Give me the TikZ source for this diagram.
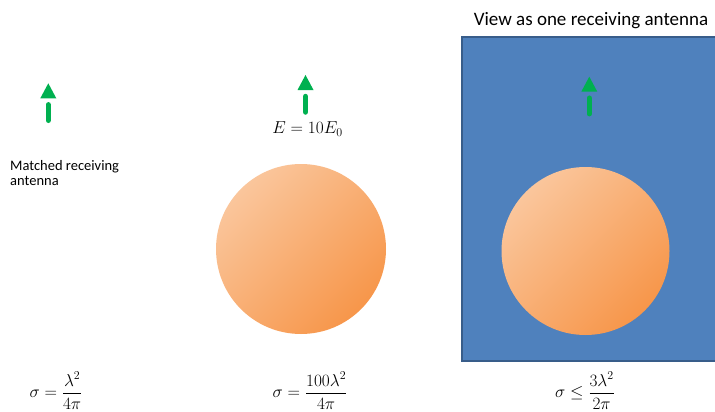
\documentclass[tikz,border=0pt]{standalone}
\usepackage{amsmath}
\usepackage{fontspec}
\newfontfamily\calib{Carlito}
\definecolor{antgreen}{HTML}{00B050}
\definecolor{panelblue}{HTML}{4F81BD}
\definecolor{paneledge}{HTML}{385D8A}
\definecolor{sphlight}{HTML}{FAC69C}
\definecolor{sphdark}{HTML}{F7964A}
\begin{document}
\begin{tikzpicture}[
    x=1pt, y=-1pt,
    panel/.style={fill=panelblue, draw=paneledge, line width=1.5pt},
    sphere/.style={circle, minimum size=#1, inner sep=0pt,
      top color=sphlight, bottom color=sphdark, shading angle=45},
    smalllbl/.style={font=\calib\fontsize{14.5}{15}\selectfont, align=left, inner sep=0pt},
    titlelbl/.style={font=\calib\fontsize{19}{20}\selectfont, inner sep=0pt},
    mathlbl/.style={font=\fontsize{18}{22}\selectfont, inner sep=0pt}
  ]
  \useasboundingbox (0,0) rectangle (715,412);
  % receiving region on the right
  \draw[panel] (462,37) rectangle (720,361);
  \node[titlelbl, anchor=base] (title) at (591,26) {View as one receiving antenna};
  % scatterers
  \node[sphere=170pt] (sph1) at (301,249) {};
  \node[sphere=168pt] (sph2) at (585.5,251) {};
  % antennas
  \foreach \ax/\ay in {48.3/83.3, 305.5/75, 589.3/76.7} {
    \fill[antgreen] (\ax,\ay) -- (\ax+8,\ay+15) -- (\ax-8,\ay+15) -- cycle;
    \draw[antgreen, line width=5.5pt, line cap=round] (\ax,\ay+21.5) -- (\ax,\ay+37);
  }
  \node[smalllbl, anchor=north west] (match) at (10,160) {Matched receiving\\antenna};
  \node[mathlbl] (field) at (307.5,129) {$E=10E_0$};
  % cross sections
  \foreach \cx/\frm/\nm in {%
    56/{\sigma=\dfrac{\lambda^2}{4\pi}}/cs1,
    310/{\sigma=\dfrac{100\lambda^2}{4\pi}}/cs2,
    585/{\sigma\le\dfrac{3\lambda^2}{2\pi}}/cs3%
  }{
    \node[mathlbl] (\nm) at (\cx,391) {$\frm$};
  }
\end{tikzpicture}
\end{document}
